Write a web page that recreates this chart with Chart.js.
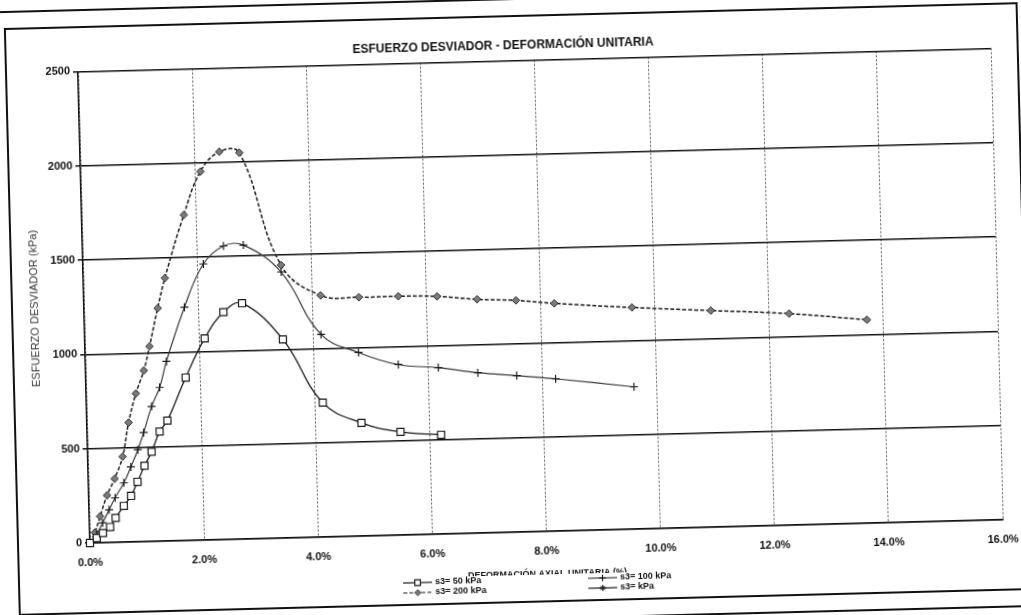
<!DOCTYPE html>
<html>
<head>
<meta charset="utf-8">
<title>Esfuerzo desviador - deformación unitaria</title>
<script src="https://cdn.jsdelivr.net/npm/chart.js@4.4.1/dist/chart.umd.min.js"></script>
<style>
  html, body { margin: 0; padding: 0; background: #fff; width: 1021px; height: 615px; overflow: hidden; }
  /* the scanned sheet is slightly turned, so the canvas is turned round the plot origin */
  #chart { position: absolute; left: 0; top: 0; transform-origin: 90px 543px; transform: rotate(-1.46deg); }
</style>
</head>
<body>
<canvas id="chart" width="1050" height="640"></canvas>
<script>
// deformación unitaria (%) / esfuerzo desviador (kPa)
const strain50  = [0, 0.12, 0.23, 0.36, 0.46, 0.61, 0.74, 0.86, 0.99, 1.12, 1.27, 1.41, 1.75, 2.10, 2.44, 2.77, 3.47, 4.14, 4.81, 5.49, 6.20];
const stress50  = [0, 25, 51, 82, 129, 192, 244, 318, 402, 475, 581, 638, 864, 1069, 1205, 1250, 1053, 712, 600, 547, 526];

const strain100 = [0, 0.12, 0.23, 0.35, 0.46, 0.62, 0.75, 0.88, 0.99, 1.14, 1.29, 1.42, 1.76, 2.11, 2.47, 2.82, 3.47, 4.14, 4.79, 5.48, 6.18, 6.87, 7.55, 8.23, 9.60];
const stress100 = [0, 45, 105, 173, 236, 314, 398, 488, 578, 715, 815, 952, 1237, 1463, 1556, 1558, 1410, 1074, 973, 904, 882, 850, 829, 807, 754];

const strain200 = [0, 0.09, 0.19, 0.32, 0.46, 0.61, 0.73, 0.87, 1.02, 1.13, 1.29, 1.43, 1.79, 2.10, 2.44, 2.79, 3.47, 4.15, 4.82, 5.51, 6.19, 6.89, 7.57, 8.24, 9.60, 10.98, 12.35, 13.71];
const stress200 = [0, 55, 140, 250, 337, 453, 633, 786, 907, 1034, 1235, 1394, 1726, 1953, 2056, 2048, 1447, 1281, 1266, 1266, 1260, 1239, 1228, 1207, 1175, 1148, 1121, 1078];

const seriesLabels = ['s3= 50 kPa', 's3= 100 kPa', 's3= 200 kPa', 's3= kPa'];
const xMin = 0, xMax = 16, xStep = 2;
const yMin = 0, yMax = 2500, yStep = 500;

const FONT = "'Liberation Sans', Arial, sans-serif";
const INK = '#111';

function pts(xs, ys) {
  return xs.map((x, i) => ({ x: x, y: ys[i] }));
}

// white sheet, outer frame and the page rules around it
const framePlugin = {
  id: 'frame',
  beforeDraw(chart) {
    const c = chart.ctx;
    c.save();
    c.fillStyle = '#fff';
    c.fillRect(0, 0, chart.width, chart.height);
    c.strokeStyle = INK;
    c.lineWidth = 2;
    c.strokeRect(18, 27, 1012, 586);
    c.beginPath();
    c.moveTo(0, 10);
    c.lineTo(chart.width, 10);
    c.moveTo(0, 630);
    c.lineTo(chart.width, 630);
    c.stroke();
    c.restore();
  }
};

// two column legend, laid over the lower half of the x axis title like on the sheet
const legendPlugin = {
  id: 'sheetLegend',
  afterDraw(chart) {
    const c = chart.ctx;
    const cols = [402, 587];
    const rows = [591, 601];
    c.save();
    c.fillStyle = '#fff';
    c.fillRect(398, 586, 310, 23);
    chart.data.datasets.forEach((ds, i) => {
      const x = cols[i % 2];
      const y = rows[Math.floor(i / 2)];
      c.strokeStyle = ds.borderColor;
      c.lineWidth = 1.2;
      c.setLineDash(ds.borderDash || []);
      c.beginPath();
      c.moveTo(x, y);
      c.lineTo(x + 29, y);
      c.stroke();
      c.setLineDash([]);
      c.fillStyle = ds.pointBackgroundColor;
      c.strokeStyle = ds.pointBorderColor;
      c.lineWidth = ds.pointBorderWidth;
      Chart.helpers.drawPoint(c, {
        pointStyle: ds.pointStyle,
        radius: ds.pointRadius * 0.8,
        rotation: 0,
        borderWidth: ds.pointBorderWidth
      }, x + 14.5, y);
      c.fillStyle = INK;
      c.font = 'bold 9px ' + FONT;
      c.textBaseline = 'middle';
      c.textAlign = 'left';
      c.fillText(ds.label, x + 32, y);
    });
    c.restore();
  }
};

const ctx = document.getElementById('chart').getContext('2d');

new Chart(ctx, {
  type: 'line',
  data: {
    datasets: [
      {
        label: seriesLabels[0],
        data: pts(strain50, stress50),
        borderColor: '#1a1a1a', borderWidth: 1.3,
        pointStyle: 'rect', pointRadius: 5,
        pointBackgroundColor: '#fff', pointBorderColor: '#1a1a1a', pointBorderWidth: 1.2
      },
      {
        label: seriesLabels[1],
        data: pts(strain100, stress100),
        borderColor: '#3a3a3a', borderWidth: 1.2,
        pointStyle: 'cross', pointRadius: 4,
        pointBackgroundColor: '#1a1a1a', pointBorderColor: '#1a1a1a', pointBorderWidth: 1.2
      },
      {
        label: seriesLabels[2],
        data: pts(strain200, stress200),
        borderColor: '#1a1a1a', borderWidth: 1.5, borderDash: [4, 2],
        pointStyle: 'rectRot', pointRadius: 3.8,
        pointBackgroundColor: '#7a7a7a', pointBorderColor: '#333', pointBorderWidth: 1
      },
      {
        label: seriesLabels[3],
        data: [],
        borderColor: '#1a1a1a', borderWidth: 1.2,
        pointStyle: 'star', pointRadius: 4,
        pointBackgroundColor: '#1a1a1a', pointBorderColor: '#1a1a1a', pointBorderWidth: 1
      }
    ].map(ds => Object.assign({ tension: 0.4, fill: false, clip: 6 }, ds))
  },
  options: {
    responsive: false,
    animation: false,
    devicePixelRatio: 1,
    layout: { padding: { left: 28, right: 47, top: 41, bottom: 45 } },
    plugins: {
      legend: { display: false },
      tooltip: { enabled: false },
      title: {
        display: true,
        text: 'ESFUERZO DESVIADOR - DEFORMACIÓN UNITARIA',
        color: INK,
        font: { family: FONT, size: 12, weight: 'bold' },
        padding: { top: 8, bottom: 8 }
      }
    },
    scales: {
      x: {
        type: 'linear',
        min: xMin, max: xMax,
        afterFit: s => { s.height = 52; },
        ticks: {
          stepSize: xStep,
          autoSkip: false,
          maxRotation: 0,
          padding: 13,
          color: INK,
          font: { family: FONT, size: 11, weight: 'bold' },
          callback: v => v.toFixed(1) + '%'
        },
        grid: { color: '#555', lineWidth: 1, drawTicks: false },
        border: { color: INK, width: 1.5, dash: [2, 2] },
        title: {
          display: true,
          text: 'DEFORMACIÓN AXIAL UNITARIA (%)',
          color: INK,
          font: { family: FONT, size: 9, weight: 'bold' },
          padding: { top: 0, bottom: 4 }
        }
      },
      y: {
        min: yMin, max: yMax,
        afterFit: s => { s.width = 62; },
        ticks: {
          stepSize: yStep,
          padding: 3,
          color: INK,
          font: { family: FONT, size: 11, weight: 'bold' },
          callback: v => String(v)
        },
        grid: { color: INK, lineWidth: 1.5, tickLength: 5, tickColor: INK },
        border: { color: INK, width: 1.5 },
        title: {
          display: true,
          text: 'ESFUERZO DESVIADOR (kPa)',
          color: '#333',
          font: { family: FONT, size: 11 },
          padding: { top: 6, bottom: 0 }
        }
      }
    }
  },
  plugins: [framePlugin, legendPlugin]
});
</script>
</body>
</html>
